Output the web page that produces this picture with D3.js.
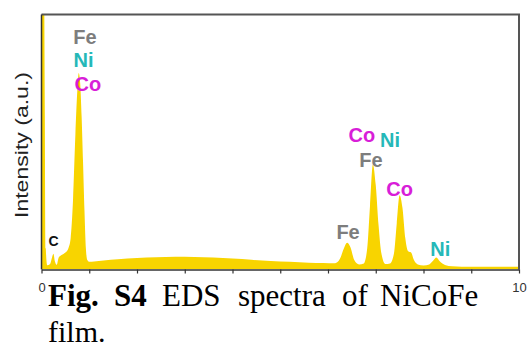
<!DOCTYPE html>
<html>
<head>
<meta charset="utf-8">
<script src="https://cdn.jsdelivr.net/npm/d3@7"></script>
<style>
  body { margin: 0; background: #fff; }
</style>
</head>
<body>
<div id="chart"></div>
<script>
"use strict"

/* spectrum: energy (keV) and intensity (a.u., 0-100 = plot height) */
let energyKeV = [0, 0.05, 0.07, 0.09, 0.12, 0.18, 0.22, 0.25, 0.28, 0.32, 0.36, 0.42, 0.5, 0.56, 0.61,
    0.66, 0.71, 0.75, 0.78, 0.81, 0.84, 0.87, 0.9, 0.93, 0.96, 1.0, 1.1, 1.3, 1.6, 2.0, 2.4, 2.8, 3.2,
    3.6, 4.0, 4.4, 4.8, 5.2, 5.6, 5.9, 6.15, 6.25, 6.33, 6.4, 6.47, 6.55, 6.65, 6.75, 6.82, 6.88, 6.94,
    7.0, 7.06, 7.12, 7.2, 7.3, 7.38, 7.44, 7.5, 7.56, 7.62, 7.68, 7.74, 7.8, 7.88, 8.0, 8.12, 8.2, 8.27,
    8.34, 8.45, 8.6, 9.0, 9.5, 10.0];
let intensity = [120, 120, 60, 8, 1.5, 2.0, 4.5, 6.0, 3.0, 1.6, 4.5, 5.5, 6.5, 8, 12,
    27, 53, 70, 77, 73, 60, 42, 23, 8, 3.5, 2.8, 2.9, 3.3, 3.8, 4.3, 4.6, 4.8, 4.7,
    4.5, 4.1, 3.6, 3.1, 2.8, 2.5, 2.4, 2.3, 4, 8, 10.3, 8.5, 3.5, 1.8, 2.2, 8, 25, 41,
    33, 17, 6, 2, 2.2, 6, 18, 29, 24, 12, 7, 6.5, 3.5, 1.8, 1.4, 1.8, 3.2, 4.5,
    3, 1.6, 1.1, 0.9, 0.9, 0.9];

/* x axis */
let xTicks = [0, 1, 2, 3, 4, 5, 6, 7, 8, 9, 10];
let xTickLabels = ["0", "", "", "", "", "", "", "", "", "", "10"];

/* element labels, anchored in data units (keV, intensity) */
let labelText = ["Fe", "Ni", "Co", "C", "Co", "Ni", "Fe", "Co", "Fe", "Ni"];
let labelKeV = [0.91, 0.88, 0.97, 0.25, 6.71, 7.30, 6.90, 7.50, 6.42, 8.35];
let labelAt = [88.6, 79.2, 69.9, 9.0, 49.8, 47.8, 40.0, 28.6, 11.8, 5.1];

let elementColour = { Fe: "#7d7d7d", Ni: "#25b8b8", Co: "#d81ed8", C: "#111" };

let drawing = d3.select("#chart")
    .append("svg")
    .attr("width", 530)
    .attr("height", 348);

let plotLeft = 41.5, plotRight = 519, plotTop = 14.5, plotBottom = 269.5;

let x = d3.scaleLinear().domain([0, 10]).range([plotLeft, plotRight]);
let y = d3.scaleLinear().domain([0, 100]).range([plotBottom - 0.5, plotTop]);

drawing.append("clipPath")
    .attr("id", "plotClip")
    .append("rect")
    .attr("x", plotLeft)
    .attr("y", plotTop)
    .attr("width", plotRight - plotLeft)
    .attr("height", plotBottom - plotTop);

/* the yellow spectrum */
let area = d3.area()
    .x((d, i) => x(energyKeV[i]))
    .y0(y(0))
    .y1(d => y(d))
    .curve(d3.curveMonotoneX);

drawing.append("path")
    .datum(intensity)
    .attr("clip-path", "url(#plotClip)")
    .attr("d", area)
    .attr("fill", "#f8d400");

/* frame: top and right */
drawing.append("path")
    .attr("d", `M${plotLeft},${plotTop}H${plotRight}V${plotBottom}`)
    .attr("fill", "none")
    .attr("stroke", "#555")
    .attr("stroke-width", 2);

/* left axis line */
drawing.append("line")
    .attr("x1", plotLeft).attr("x2", plotLeft)
    .attr("y1", plotTop).attr("y2", plotBottom)
    .attr("stroke", "#333")
    .attr("stroke-width", 1.5);

/* bottom axis */
let xAxis = drawing.append("g")
    .attr("transform", `translate(0,${plotBottom})`)
    .call(d3.axisBottom(x)
        .tickValues(xTicks)
        .tickSize(4)
        .tickSizeOuter(0)
        .tickFormat((d, i) => xTickLabels[i]));

xAxis.select(".domain").attr("stroke", "#333").attr("stroke-width", 1.5);
xAxis.selectAll(".tick line").attr("stroke", "#333").attr("stroke-width", 1.2);
xAxis.selectAll(".tick text")
    .attr("y", 22)
    .attr("dy", 0)
    .attr("fill", "#333")
    .style("font-family", "Liberation Sans, Arial, sans-serif")
    .style("font-size", "13px");

/* y axis title (stretched along its length, as in the picture) */
drawing.append("text")
    .attr("transform", "translate(28,145) rotate(-90)")
    .attr("text-anchor", "middle")
    .attr("textLength", 146)
    .attr("lengthAdjust", "spacingAndGlyphs")
    .style("font-family", "Liberation Sans, Arial, sans-serif")
    .style("font-size", "18px")
    .attr("fill", "#222")
    .text("Intensity (a.u.)");

/* element labels */
drawing.selectAll(".peakLabel")
    .data(labelText)
    .enter()
    .append("text")
    .attr("class", "peakLabel")
    .attr("x", (d, i) => x(labelKeV[i]))
    .attr("y", (d, i) => y(labelAt[i]))
    .attr("text-anchor", "middle")
    .attr("fill", d => elementColour[d])
    .style("font-family", "Liberation Sans, Arial, sans-serif")
    .style("font-weight", "bold")
    .style("font-size", d => d === "C" ? "14px" : "20px")
    .text(d => d);

/* figure caption, justified like the original */
let caption = drawing.append("text")
    .attr("y", 305.5)
    .attr("fill", "#000")
    .style("font-family", "Liberation Serif, Times New Roman, serif")
    .style("font-size", "31px");

caption.append("tspan").attr("x", 48).style("font-weight", "bold").text("Fig.");
caption.append("tspan").attr("x", 114).style("font-weight", "bold").text("S4");
caption.append("tspan").attr("x", 162).text("EDS");
caption.append("tspan").attr("x", 238).text("spectra");
caption.append("tspan").attr("x", 342).text("of");
caption.append("tspan").attr("x", 380).text("NiCoFe");

drawing.append("text")
    .attr("x", 48)
    .attr("y", 341.5)
    .attr("fill", "#000")
    .style("font-family", "Liberation Serif, Times New Roman, serif")
    .style("font-size", "30px")
    .text("film.");
</script>
</body>
</html>
